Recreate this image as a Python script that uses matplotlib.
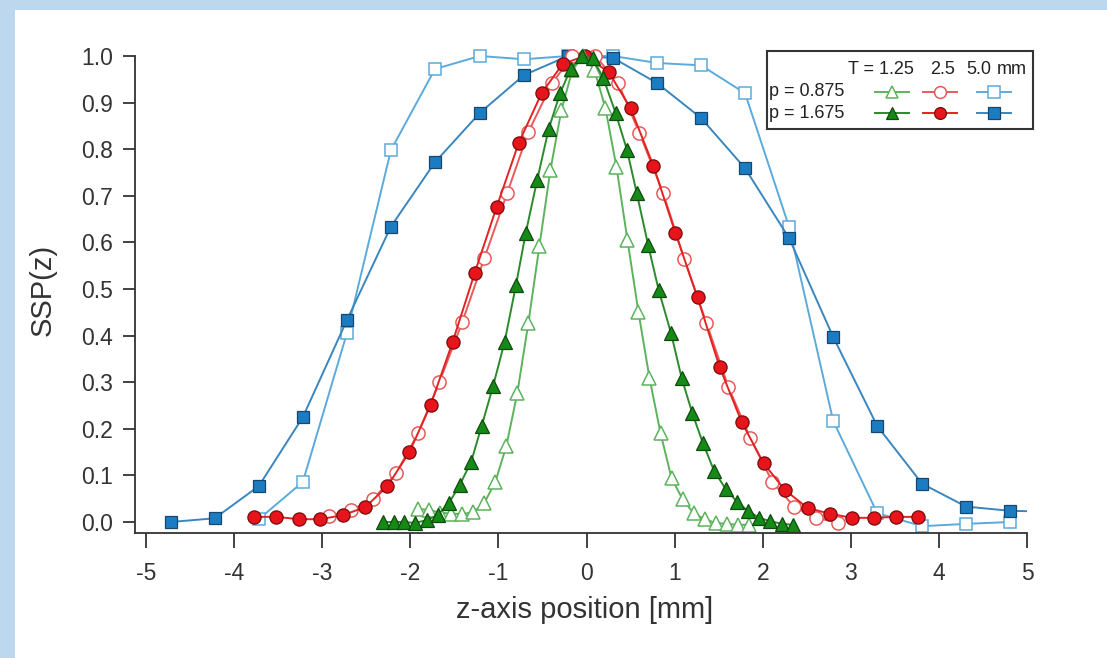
import matplotlib.pyplot as plt
from matplotlib.patches import Rectangle
from matplotlib.lines import Line2D

plt.rcParams['font.family'] = ['Liberation Sans', 'DejaVu Sans']

# T = 5.0 mm
blue_x = [-4.72, -4.22, -3.72, -3.22, -2.72, -2.22, -1.72, -1.21, -0.71, -0.21,
          0.30, 0.80, 1.30, 1.80, 2.30, 2.80, 3.30, 3.81, 4.31, 4.81, 5.31]
blue_open_y = [0.006, 0.086, 0.405, 0.798, 0.972, 1.0, 0.993, 1.0,
               1.0, 0.985, 0.98, 0.92, 0.633, 0.217, 0.019, -0.009, -0.004, 0.0]
blue_fill_y = [0.0, 0.008, 0.077, 0.225, 0.433, 0.634, 0.772, 0.878, 0.959, 1.0,
               0.996, 0.942, 0.867, 0.759, 0.609, 0.397, 0.206, 0.082, 0.033, 0.024, 0.022]

# T = 2.5 mm
red_open_x = [-2.92, -2.67, -2.42, -2.16, -1.91, -1.67, -1.41, -1.16, -0.90, -0.66, -0.39, -0.16,
              0.10, 0.36, 0.60, 0.87, 1.11, 1.36, 1.61, 1.86, 2.11, 2.36, 2.61, 2.86]
red_open_y = [0.013, 0.026, 0.049, 0.105, 0.191, 0.300, 0.429, 0.566, 0.706, 0.837, 0.942, 1.0,
              1.0, 0.942, 0.835, 0.706, 0.564, 0.428, 0.290, 0.180, 0.086, 0.032, 0.009, -0.002]
red_fill_x = [-3.77, -3.52, -3.26, -3.02, -2.76, -2.51, -2.26, -2.01, -1.77, -1.52, -1.27, -1.02,
              -0.77, -0.51, -0.27, -0.02, 0.25, 0.50, 0.76, 1.01, 1.26, 1.51, 1.76, 2.01,
              2.25, 2.51, 2.76, 3.01, 3.26, 3.51, 3.76]
red_fill_y = [0.011, 0.011, 0.006, 0.006, 0.015, 0.032, 0.077, 0.150, 0.251, 0.386, 0.534, 0.676,
              0.813, 0.920, 0.983, 1.0, 0.966, 0.888, 0.764, 0.620, 0.482, 0.333, 0.215, 0.126,
              0.069, 0.030, 0.018, 0.009, 0.009, 0.011, 0.011]

# T = 1.25 mm
green_open_x = [-1.91, -1.785, -1.66, -1.535, -1.41, -1.285, -1.16, -1.035, -0.91, -0.785, -0.66,
                -0.535, -0.41, -0.285, -0.16, -0.035, 0.09, 0.215, 0.34, 0.465, 0.59, 0.715,
                0.84, 0.965, 1.09, 1.215, 1.34, 1.465, 1.59, 1.715, 1.84]
green_open_y = [0.028, 0.026, 0.020, 0.018, 0.017, 0.021, 0.041, 0.086, 0.163, 0.277, 0.427,
                0.592, 0.755, 0.884, 0.97, 1.0, 0.97, 0.888, 0.762, 0.605, 0.45, 0.309,
                0.191, 0.094, 0.049, 0.019, 0.006, -0.002, -0.004, -0.006, -0.006]
green_fill_x = [-2.31, -2.18, -2.07, -1.95, -1.81, -1.69, -1.56, -1.44, -1.31, -1.19, -1.06, -0.93,
                -0.80, -0.69, -0.56, -0.43, -0.30, -0.18, -0.05, 0.07, 0.19, 0.33, 0.46, 0.57,
                0.70, 0.82, 0.96, 1.08, 1.20, 1.32, 1.45, 1.58, 1.71, 1.83, 1.96, 2.08, 2.22, 2.34]
green_fill_y = [0.0, 0.0, 0.0, -0.002, 0.004, 0.015, 0.041, 0.079, 0.129, 0.206, 0.292, 0.386,
                0.509, 0.620, 0.734, 0.843, 0.920, 0.972, 1.0, 0.995, 0.953, 0.878, 0.798, 0.706,
                0.594, 0.497, 0.405, 0.309, 0.234, 0.170, 0.109, 0.071, 0.043, 0.024, 0.009,
                0.002, -0.004, -0.006]

x_ticks = [-5, -4, -3, -2, -1, 0, 1, 2, 3, 4, 5]
y_ticks = [0.0, 0.1, 0.2, 0.3, 0.4, 0.5, 0.6, 0.7, 0.8, 0.9, 1.0]

W, H = 1107, 658
fig = plt.figure(figsize=(W / 100, H / 100), dpi=100, facecolor='#BDD7EE')
fig.add_artist(Rectangle((15 / W, 0), 1, (H - 10) / H, transform=fig.transFigure,
                         facecolor='white', edgecolor='none', zorder=-10))


def px(x, y):
    # pixel position from top-left -> figure fraction
    return x / W, 1 - y / H


ymin, ymax = -0.0236, 1.04
ax_top = 56 - 0.04 * 466
ax = fig.add_axes([135 / W, 125 / H, (1027 - 135) / W, (533 - ax_top) / H])
ax.set_facecolor('none')

# styles
g_open = dict(color='#5DB35D', marker='^', ms=9.5, mfc='white', mec='#5DB35D', mew=1.1, lw=1.4)
g_fill = dict(color='#2B8A2B', marker='^', ms=9.5, mfc='#168A16', mec='#0E4A0E', mew=0.9, lw=1.4)
r_open = dict(color='#E85A5A', marker='o', ms=9.5, mfc='white', mec='#E85A5A', mew=1.1, lw=1.4)
r_fill = dict(color='#E32222', marker='o', ms=9.5, mfc='#E8141B', mec='#7A0A0A', mew=0.9, lw=1.4)
b_open = dict(color='#5CAADB', marker='s', ms=9.2, mfc='white', mec='#5CAADB', mew=1.1, lw=1.4)
b_fill = dict(color='#3A86BE', marker='s', ms=9.2, mfc='#1C7CC2', mec='#16476E', mew=0.9, lw=1.4)

ax.plot(blue_x[2:20], blue_open_y, **b_open)
ax.plot(blue_x, blue_fill_y, **b_fill)
ax.plot(red_open_x, red_open_y, **r_open)
ax.plot(red_fill_x, red_fill_y, **r_fill)
ax.plot(green_open_x, green_open_y, **g_open)
ax.plot(green_fill_x, green_fill_y, **g_fill)

ax.set_xlim(-5.125, 5.0)
ax.set_ylim(ymin, ymax)
ax.spines['top'].set_visible(False)
ax.spines['right'].set_visible(False)
ax.spines['left'].set_bounds(ymin, 1.0)
for s in ('left', 'bottom'):
    ax.spines[s].set_linewidth(1.3)
    ax.spines[s].set_color('#333333')

ax.set_xticks(x_ticks)
ax.set_xticklabels([str(t) for t in x_ticks])
ax.set_yticks(y_ticks)
ax.set_yticklabels(['%.1f' % t for t in y_ticks])
ax.tick_params(axis='x', direction='out', length=11, width=1.3, pad=10, labelsize=16.5,
               color='#333333', labelcolor='#333333')
ax.tick_params(axis='y', direction='out', length=9, width=1.3, pad=7, labelsize=16.5,
               color='#333333', labelcolor='#333333')

ax.set_xlabel('z-axis position [mm]', fontsize=21, color='#333333')
ax.xaxis.set_label_coords((585 - 135) / 892, (533 - 610) / (533 - ax_top))
ax.xaxis.label.set_va('center')
ax.set_ylabel('SSP(z)', fontsize=21, color='#333333')
ax.yaxis.set_label_coords((43 - 135) / 892, (533 - 290) / (533 - ax_top))
ax.yaxis.label.set_va('center')
ax.yaxis.label.set_ha('center')

# legend box drawn by hand
x0, y0 = px(767, 129)
x1, y1 = px(1033, 51)
fig.add_artist(Rectangle((x0, y0), x1 - x0, y1 - y0, transform=fig.transFigure,
                         facecolor='white', edgecolor='#333333', lw=1.5, zorder=5))
fs = 13
for text, hx, ha in (('T = 1.25', 914, 'right'), ('2.5', 943, 'center'),
                     ('5.0', 979, 'center'), ('mm', 1027, 'right')):
    tx, ty = px(hx, 70)
    fig.text(tx, ty, text, ha=ha, va='center', fontsize=fs, color='#222222', zorder=6)
for label, yy in (('p = 0.875', 92), ('p = 1.675', 113)):
    tx, ty = px(769, yy)
    fig.text(tx, ty, label, ha='left', va='center', fontsize=fs, color='#222222', zorder=6)

samples = [(892, 92, g_open), (940, 92, r_open), (994, 92, b_open),
           (892, 113, g_fill), (940, 113, r_fill), (994, 113, b_fill)]
for cx, cy, st in samples:
    xa, ya = px(cx - 17, cy)
    xb, _ = px(cx + 17, cy)
    fig.add_artist(Line2D([xa, xb], [ya, ya], transform=fig.transFigure, color=st['color'],
                          lw=1.4, zorder=6))
    mx, my = px(cx, cy)
    fig.add_artist(Line2D([mx], [my], transform=fig.transFigure, linestyle='none',
                          marker=st['marker'], ms=8.5, mfc=st['mfc'], mec=st['mec'],
                          mew=st['mew'], zorder=7))

fig.savefig('out.png', dpi=100, facecolor=fig.get_facecolor())
